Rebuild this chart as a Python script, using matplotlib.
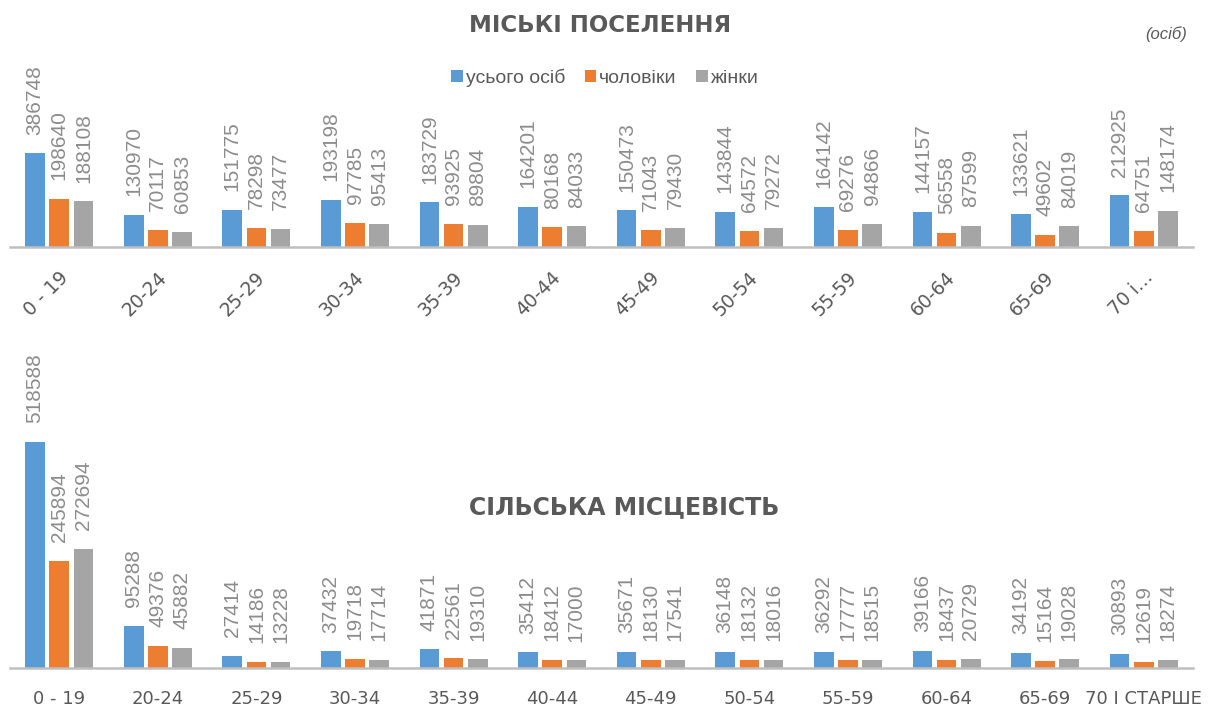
import matplotlib
matplotlib.use("Agg")
import matplotlib.pyplot as plt
import matplotlib.transforms as mtransforms
import numpy as np

categories = ['0 - 19', '20-24', '25-29', '30-34', '35-39', '40-44', '45-49',
              '50-54', '55-59', '60-64', '65-69', '70 і старше']
top_tick_labels = ['0 - 19', '20-24', '25-29', '30-34', '35-39', '40-44', '45-49',
                   '50-54', '55-59', '60-64', '65-69', '70 і…']
bottom_tick_labels = ['0 - 19', '20-24', '25-29', '30-34', '35-39', '40-44', '45-49',
                      '50-54', '55-59', '60-64', '65-69', '70 І СТАРШЕ']
series_names = ['усього осіб', 'чоловіки', 'жінки']

urban_total = [386748, 130970, 151775, 193198, 183729, 164201, 150473, 143844, 164142, 144157, 133621, 212925]
urban_male = [198640, 70117, 78298, 97785, 93925, 80168, 71043, 64572, 69276, 56558, 49602, 64751]
urban_female = [188108, 60853, 73477, 95413, 89804, 84033, 79430, 79272, 94866, 87599, 84019, 148174]

rural_total = [518588, 95288, 27414, 37432, 41871, 35412, 35671, 36148, 36292, 39166, 34192, 30893]
rural_male = [245894, 49376, 14186, 19718, 22561, 18412, 18130, 18132, 17777, 18437, 15164, 12619]
rural_female = [272694, 45882, 13228, 17714, 19310, 17000, 17541, 18016, 18515, 20729, 19028, 18274]

title_top = 'МІСЬКІ ПОСЕЛЕННЯ'
title_bottom = 'СІЛЬСЬКА МІСЦЕВІСТЬ'
unit_label = '(осіб)'

colors = ['#5B9BD5', '#ED7D31', '#A5A5A5']
label_color = '#8C8C8C'
tick_color = '#595959'
axis_color = '#BFBFBF'

W, H = 1218, 710
fig = plt.figure(figsize=(W / 100, H / 100), dpi=100)

def px_axes(x0, x1, y_top, y_base):
    return fig.add_axes([x0 / W, 1 - y_base / H, (x1 - x0) / W, (y_base - y_top) / H])

ax1 = px_axes(10, 1193, 101.8, 246.7)
ax2 = px_axes(10, 1193, 441.1, 667.7)

x = np.arange(len(categories))
offsets = [-0.245, 0.0, 0.245]
width = 0.2

def draw(ax, series, ymax):
    handles = []
    for s, off, c, name in zip(series, offsets, colors, series_names):
        b = ax.bar(x + off, s, width=width, color=c, label=name, zorder=2)
        ax.bar_label(b, labels=[str(v) for v in s], rotation=90, padding=13.5,
                     fontsize=15, color=label_color, family=['Liberation Sans', 'DejaVu Sans'])
        handles.append(b)
    ax.set_xlim(-0.5, len(categories) - 0.5)
    ax.set_ylim(0, ymax)
    for sp in ['top', 'right', 'left']:
        ax.spines[sp].set_visible(False)
    ax.spines['bottom'].set_color(axis_color)
    ax.spines['bottom'].set_linewidth(1.8)
    ax.set_yticks([])
    ax.set_xticks(x)
    ax.tick_params(axis='x', length=0)
    ax.patch.set_alpha(0)
    return handles

handles = draw(ax1, [urban_total, urban_male, urban_female], 600000)
draw(ax2, [rural_total, rural_male, rural_female], 520000)

ax1.set_xticklabels(top_tick_labels, rotation=45, ha='right', va='center',
                    rotation_mode='anchor', fontsize=13.5, color=tick_color,
                    family=['DejaVu Sans'])
ax1.tick_params(axis='x', pad=20)
offset = mtransforms.ScaledTranslation(6 / 100, 0, fig.dpi_scale_trans)
for lab in ax1.get_xticklabels():
    lab.set_transform(lab.get_transform() + offset)

ax2.set_xticklabels(bottom_tick_labels, fontsize=13, color=tick_color,
                    family=['DejaVu Sans'])
ax2.tick_params(axis='x', pad=16)

fig.text(600 / W, 1 - 26 / H, title_top, ha='center', va='center', fontsize=16.5,
         fontweight='bold', color=tick_color, family=['DejaVu Sans'])
fig.text(624 / W, 1 - 507 / H, title_bottom, ha='center', va='center', fontsize=17,
         fontweight='bold', color=tick_color, family=['DejaVu Sans'])
fig.text(1166 / W, 1 - 34 / H, unit_label, ha='center', va='center', fontsize=12,
         style='italic', color=tick_color, family=['Liberation Sans', 'DejaVu Sans'])

fig.legend(handles, series_names, loc='center', bbox_to_anchor=(605 / W, 1 - 78 / H),
           ncol=3, frameon=False, handlelength=0.6, handleheight=0.6, handletextpad=0.15,
           columnspacing=1.0, prop={'family': ['Liberation Sans', 'DejaVu Sans'], 'size': 14},
           labelcolor=tick_color)

fig.savefig('out.png', dpi=100)
